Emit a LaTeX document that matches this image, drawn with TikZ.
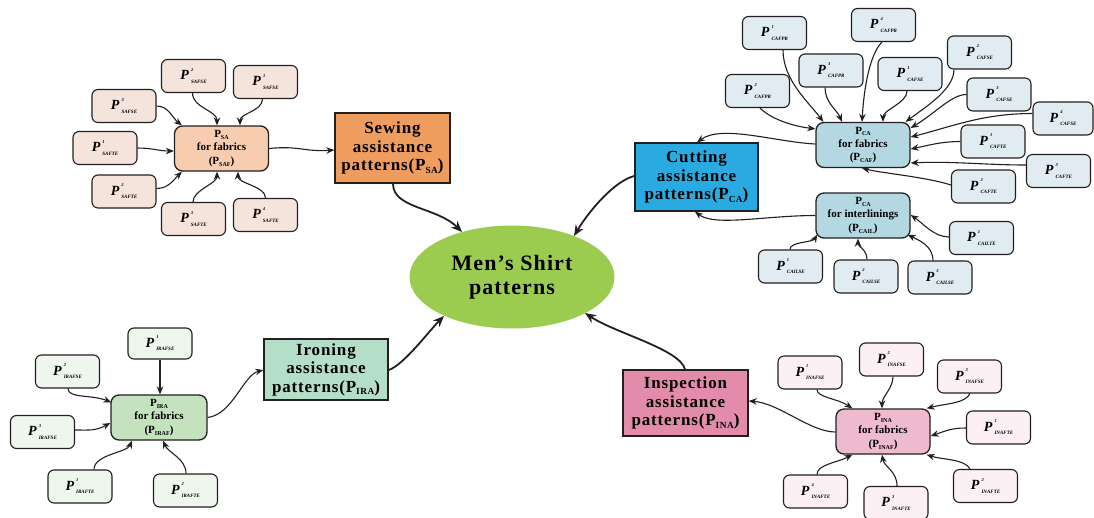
\documentclass[tikz,border=0pt]{standalone}
\usepackage{fontspec}
\setmainfont{Liberation Serif}
\newfontfamily\ttlfont[LetterSpace=5]{Liberation Serif}
\usepackage{graphicx}
\usetikzlibrary{arrows.meta,calc,shapes.geometric}
\definecolor{linec}{RGB}{35,31,32}
\definecolor{rootc}{RGB}{155,204,80}
\definecolor{sac}{RGB}{238,157,94}
\definecolor{safc}{RGB}{248,205,175}
\definecolor{salc}{RGB}{244,228,219}
\definecolor{cac}{RGB}{41,171,226}
\definecolor{cafc}{RGB}{180,216,226}
\definecolor{calc}{RGB}{224,236,241}
\definecolor{irac}{RGB}{180,222,200}
\definecolor{irafc}{RGB}{196,226,190}
\definecolor{iralc}{RGB}{238,246,238}
\definecolor{inac}{RGB}{226,139,170}
\definecolor{inafc}{RGB}{238,186,208}
\definecolor{inalc}{RGB}{252,240,245}
\newcommand\sbs[1]{\raisebox{-0.35ex}{\scalebox{0.55}{#1}}}
\newcommand\lf[2]{\textbf{\textit{P}}\kern2pt\rlap{\raisebox{8.5pt}{\fontsize{4.5}{4.5}\selectfont\bfseries\itshape #1}}\raisebox{-3.5pt}{\fontsize{5}{5}\selectfont\bfseries\itshape #2}}
\begin{document}
\begin{tikzpicture}[x=1pt,y=-1pt,
  leaf/.style={draw=linec, line width=1.1pt, rounded corners=6pt, minimum width=64pt, minimum height=33pt, inner sep=0pt, font=\fontsize{14}{14}\selectfont},
  mid/.style={draw=linec, line width=1.3pt, rounded corners=8pt, minimum width=94pt, minimum height=45pt, inner sep=0pt, align=center, font=\bfseries\fontsize{11}{13.3}\selectfont},
  titlebox/.style={draw=linec, line width=1.4pt, inner sep=0pt, align=center, font=\ttlfont\bfseries\fontsize{17}{18.5}\selectfont},
  arr/.style={-{Stealth[length=8pt,width=6.5pt]}, line width=1.1pt, draw=linec},
  bigarr/.style={-{Stealth[length=11pt,width=9pt]}, line width=1.8pt, draw=linec}]
\useasboundingbox (0,0) rectangle (1094,517);
\fill[white] (0,0) rectangle (1094,517);

% root
\node[shape=ellipse, fill=rootc, minimum width=205pt, minimum height=103pt, inner sep=0pt, align=center, font=\ttlfont\bfseries\fontsize{22}{24}\selectfont] (root) at (512,277) {Men’s Shirt\\patterns};

% ---------- Sewing ----------
\node[titlebox, fill=sac, minimum width=115pt, minimum height=70pt] (sa) at (392.5,148) {Sewing\\assistance\\patterns(P\sbs{SA})};
\node[mid, fill=safc] (saf) at (221.5,148.5) {P\sbs{SA}\\for fabrics\\(P\sbs{SAF})};
\node[leaf, fill=salc] (safse3) at (124,106) {\lf{3}{SAFSE}};
\node[leaf, fill=salc] (safse2) at (193.5,76) {\lf{2}{SAFSE}};
\node[leaf, fill=salc] (safse1) at (265.5,82) {\lf{1}{SAFSE}};
\node[leaf, fill=salc] (safte1) at (105,148) {\lf{1}{SAFTE}};
\node[leaf, fill=salc] (safte2) at (124,191.5) {\lf{2}{SAFTE}};
\node[leaf, fill=salc] (safte3) at (193.5,219) {\lf{3}{SAFTE}};
\node[leaf, fill=salc] (safte4) at (265.5,215) {\lf{4}{SAFTE}};

\draw[arr] (safse3.east) .. controls +(12,0) and +(-10,-8) .. ($(saf.north west)+(8,0)$);
\draw[arr] ($(safse2.south)+(-1,0)$) .. controls +(0,15) and +(0,-15) .. ($(saf.north)+(-4.5,0)$);
\draw[arr] ($(safse1.south)+(-3,0)$) .. controls +(0,12) and +(0,-12) .. ($(saf.north)+(18.5,0)$);
\draw[arr] (safte1.east) .. controls +(15,0) and +(-15,0) .. ($(saf.west)+(0,2.5)$);
\draw[arr] ($(safte2.east)+(0,-3)$) .. controls +(12,0) and +(-8,8) .. ($(saf.south west)+(8,0)$);
\draw[arr] ($(safte3.north)+(-0.5,0)$) .. controls +(0,-12) and +(0,12) .. ($(saf.south)+(-4.5,0)$);
\draw[arr] (safte4.north) .. controls +(0,-12) and +(0,12) .. ($(saf.south)+(16.5,0)$);
\draw[arr] (saf.east) .. controls +(30,-3) and +(-30,2) .. ($(sa.west)+(0,2)$);
\draw[bigarr] ($(sa.south)+(0.5,0)$) .. controls +(0,25) and +(-25,-25) .. ($(root.center)+(-50,-45)$);

% ---------- Cutting ----------
\node[titlebox, fill=cac, minimum width=123pt, minimum height=68pt] (ca) at (696.5,177) {Cutting\\assistance\\patterns(P\sbs{CA})};
\node[mid, fill=cafc] (caf) at (863,145) {P\sbs{CA}\\for fabrics\\(P\sbs{CAF})};
\node[mid, fill=cafc] (cail) at (863,215.5) {P\sbs{CA}\\for interlinings\\(P\sbs{CAIL})};
\node[leaf, fill=calc] (cafpr1) at (774.5,33) {\lf{1}{CAFPR}};
\node[leaf, fill=calc] (cafpr4) at (883.5,25) {\lf{4}{CAFPR}};
\node[leaf, fill=calc] (cafpr3) at (831,70.5) {\lf{3}{CAFPR}};
\node[leaf, fill=calc] (cafpr2) at (757.5,91) {\lf{2}{CAFPR}};
\node[leaf, fill=calc] (cafse1) at (910,74) {\lf{1}{CAFSE}};
\node[leaf, fill=calc] (cafse2) at (979.5,52.5) {\lf{2}{CAFSE}};
\node[leaf, fill=calc] (cafse3) at (999,94.5) {\lf{3}{CAFSE}};
\node[leaf, fill=calc, minimum width=60pt] (cafse4) at (1063,118.5) {\lf{4}{CAFSE}};
\node[leaf, fill=calc] (cafte1) at (993,141.5) {\lf{1}{CAFTE}};
\node[leaf, fill=calc] (cafte3) at (1058.5,171) {\lf{3}{CAFTE}};
\node[leaf, fill=calc] (cafte2) at (983.5,186.5) {\lf{2}{CAFTE}};
\node[leaf, fill=calc] (cailte1) at (981.5,238) {\lf{1}{CAILTE}};
\node[leaf, fill=calc] (cailse1) at (790.5,266.5) {\lf{1}{CAILSE}};
\node[leaf, fill=calc] (cailse2) at (866,276.5) {\lf{2}{CAILSE}};
\node[leaf, fill=calc] (cailse3) at (940,277.5) {\lf{3}{CAILSE}};

\draw[arr] ($(caf.west)+(0,-1)$) .. controls +(-40,-2) and +(25,-18) .. ($(ca.north)+(0.5,0)$);
\draw[arr] ($(cail.west)+(0,0)$) .. controls +(-50,0) and +(20,15) .. ($(ca.south)+(-1.5,0)$);
\draw[bigarr] ($(ca.west)+(0,-1)$) .. controls +(-20,5) and +(15,-25) .. ($(root.center)+(62,-41)$);

\draw[arr] ($(cafpr2.south)+(2.5,0)$) .. controls +(10,10) and +(-25,-3) .. ($(caf.north west)+(0,7)$);
\draw[arr] ($(cafpr1.south)+(8.5,0)$) .. controls +(0,30) and +(-15,-20) .. ($(caf.north west)+(8,0)$);
\draw[arr] ($(cafpr3.south)+(-6,0)$) .. controls +(0,15) and +(-5,-12) .. ($(caf.north)+(-21,0)$);
\draw[arr] ($(cafpr4.south)+(-1.5,0)$) .. controls +(-12,12) and +(2,-35) .. ($(caf.north)+(-1,0)$);
\draw[arr] ($(cafse1.south)+(-3,0)$) .. controls +(0,12) and +(0,-12) .. ($(caf.north)+(20,0)$);
\draw[arr] ($(cafse2.south west)+(7,0)$) .. controls +(0,20) and +(20,-15) .. ($(caf.north east)+(-5,0)$);
\draw[arr] (cafse3.west) .. controls +(-15,0) and +(25,-15) .. ($(caf.east)+(0,-17)$);
\draw[arr] ($(cafse4.west)+(0,-5)$) .. controls +(-50,0) and +(40,-10) .. ($(caf.east)+(0,-8)$);
\draw[arr] (cafte1.west) .. controls +(-20,0) and +(15,-3) .. ($(caf.east)+(0,4)$);
\draw[arr] ($(cafte3.west)+(0,-6)$) .. controls +(-40,0) and +(40,-2) .. ($(caf.east)+(0,18)$);
\draw[arr] ($(cafte2.west)+(0,-1.5)$) .. controls +(-25,-8) and +(20,5) .. ($(caf.south)+(-1,0)$);

\draw[arr] ($(cailte1.west)+(0,-1)$) .. controls +(-15,0) and +(12,8) .. ($(cail.east)+(0,-0.5)$);
\draw[arr] ($(cailse1.north)+(-0.5,0)$) .. controls +(0,-8) and +(-5,8) .. ($(cail.south west)+(2,-4)$);
\draw[arr] ($(cailse2.north)+(1,0)$) .. controls +(0,-10) and +(0,8) .. ($(cail.south)+(-5,0)$);
\draw[arr] ($(cailse3.north)+(-7,0)$) .. controls +(0,-15) and +(10,5) .. ($(cail.south east)+(-3,-4)$);

% ---------- Ironing ----------
\node[titlebox, fill=irac, minimum width=124pt, minimum height=61pt] (ira) at (326,369.5) {Ironing\\assistance\\patterns(P\sbs{IRA})};
\node[mid, fill=irafc, minimum width=96pt] (iraf) at (159,417.5) {P\sbs{IRA}\\for fabrics\\(P\sbs{IRAF})};
\node[leaf, fill=iralc, minimum height=31pt] (irafse1) at (160,343.5) {\lf{1}{IRAFSE}};
\node[leaf, fill=iralc] (irafse2) at (67.5,371.5) {\lf{2}{IRAFSE}};
\node[leaf, fill=iralc] (irafse3) at (42.5,432) {\lf{3}{IRAFSE}};
\node[leaf, fill=iralc] (irafte1) at (80,486.5) {\lf{1}{IRAFTE}};
\node[leaf, fill=iralc] (irafte2) at (185.5,490.5) {\lf{2}{IRAFTE}};

\draw[arr] (irafse1.south) .. controls +(0,15) and +(0,-15) .. ($(iraf.north)+(1,0)$);
\draw[arr] ($(irafse2.south)+(0.5,0)$) .. controls +(0,10) and +(-20,-8) .. ($(iraf.north west)+(1,8)$);
\draw[arr] ($(irafse3.east)+(0,-2)$) .. controls +(15,0) and +(-15,8) .. ($(iraf.west)+(0,5.5)$);
\draw[arr] ($(irafte1.north)+(14,0)$) .. controls +(0,-15) and +(-5,12) .. ($(iraf.south)+(-27,0)$);
\draw[arr] ($(irafte2.north)+(0.5,0)$) .. controls +(0,-15) and +(5,12) .. ($(iraf.south)+(4,0)$);
\draw[arr] (iraf.east) .. controls +(25,-3) and +(-20,5) .. ($(ira.west)+(0,0.5)$);
\draw[bigarr] ($(ira.east)+(0,0.5)$) .. controls +(15,-5) and +(-15,15) .. ($(root.center)+(-68,39)$);

% ---------- Inspection ----------
\node[titlebox, fill=inac, minimum width=125pt, minimum height=66pt] (ina) at (685.5,403) {Inspection\\assistance\\patterns(P\sbs{INA})};
\node[mid, fill=inafc] (inaf) at (883,431.5) {P\sbs{INA}\\for fabrics\\(P\sbs{INAF})};
\node[leaf, fill=inalc] (inafse1) at (810,372.5) {\lf{1}{INAFSE}};
\node[leaf, fill=inalc] (inafse2) at (891.5,359.5) {\lf{2}{INAFSE}};
\node[leaf, fill=inalc] (inafse3) at (969.5,376.5) {\lf{3}{INAFSE}};
\node[leaf, fill=inalc] (inafte1) at (998.5,427.5) {\lf{1}{INAFTE}};
\node[leaf, fill=inalc] (inafte2) at (985.5,486) {\lf{2}{INAFTE}};
\node[leaf, fill=inalc] (inafte3) at (896,503) {\lf{3}{INAFTE}};
\node[leaf, fill=inalc] (inafte4) at (815.5,491.5) {\lf{4}{INAFTE}};

\draw[arr] ($(inaf.west)+(0,0.5)$) .. controls +(-25,0) and +(30,2) .. ($(ina.east)+(0,-2)$);
\draw[bigarr] ($(ina.north)+(-0.5,0)$) .. controls +(-5,-20) and +(30,20) .. ($(root.center)+(73,36)$);
\draw[arr] ($(inafse1.south)+(7,0)$) .. controls +(0,8) and +(-15,-10) .. ($(inaf.north west)+(17,0)$);
\draw[arr] ($(inafse2.south)+(1.5,0)$) .. controls +(0,12) and +(0,-12) .. ($(inaf.north)+(-1,0)$);
\draw[arr] ($(inafse3.south)+(0.5,0)$) .. controls +(-5,10) and +(20,-5) .. ($(inaf.north east)+(-4,0)$);
\draw[arr] ($(inafte1.west)+(0,0.5)$) .. controls +(-15,0) and +(15,-5) .. ($(inaf.east)+(0,4.5)$);
\draw[arr] ($(inafte2.north)+(-15.5,0)$) .. controls +(-5,-10) and +(15,5) .. ($(inaf.south east)+(-4,0)$);
\draw[arr] ($(inafte3.north)+(1,0)$) .. controls +(0,-15) and +(2,12) .. ($(inaf.south)+(-1,0)$);
\draw[arr] ($(inafte4.north)+(1.5,0)$) .. controls +(0,-10) and +(-15,8) .. ($(inaf.south west)+(17,0)$);
\end{tikzpicture}
\end{document}
